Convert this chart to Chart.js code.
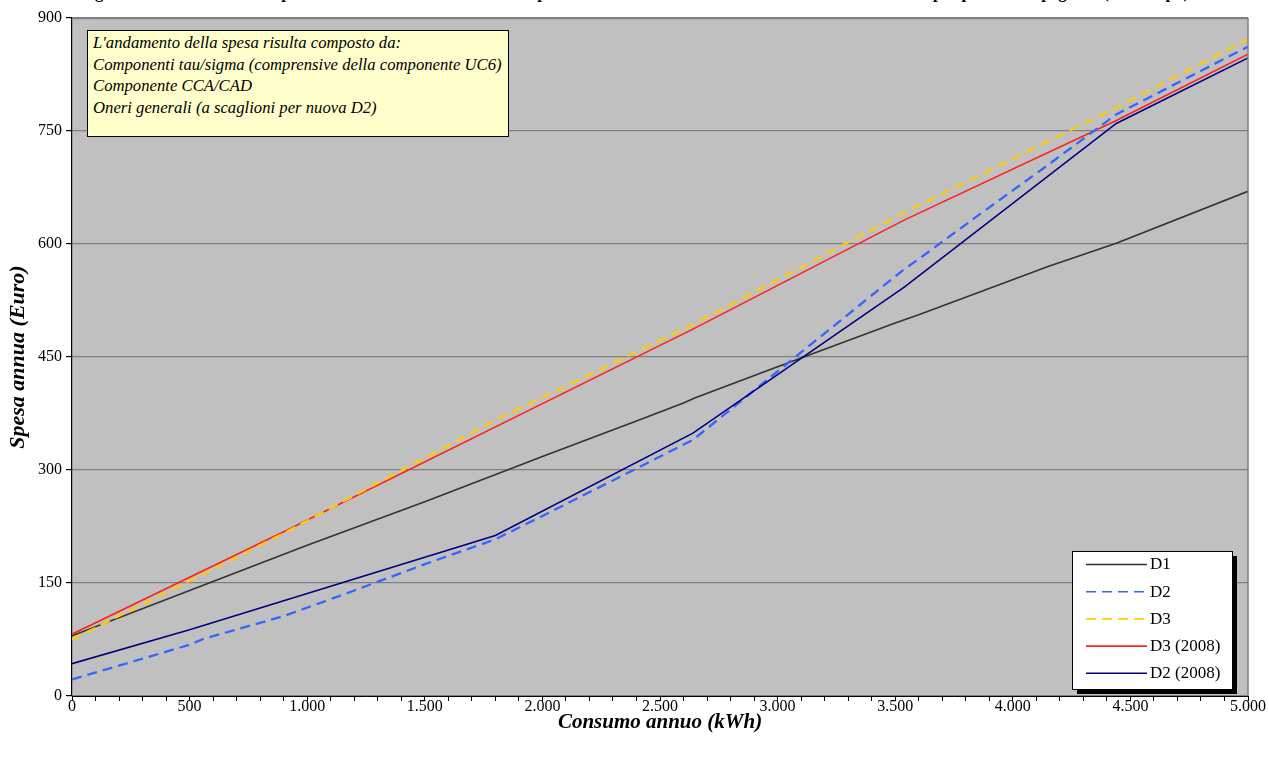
<!DOCTYPE html>
<html>
<head>
<meta charset="utf-8">
<script src="https://cdn.jsdelivr.net/npm/chart.js@4.4.1/dist/chart.umd.min.js"></script>
<style>
html,body{margin:0;padding:0;background:#fff;overflow:hidden}
#wrap{position:relative;width:1269px;height:760px;overflow:hidden}
#title{position:absolute;left:0;top:-17px;width:1269px;text-align:center;font:bold 17px "Liberation Serif";line-height:20px;white-space:nowrap;color:#000}
#note{position:absolute;left:87px;top:30px;width:410px;height:97px;padding:1px 5px 7px 5px;background:#FFFFCC;border:1px solid #000;font:italic 16.7px "Liberation Serif";line-height:21.7px;color:#000;white-space:nowrap}
canvas{position:absolute;left:0;top:0}
</style>
</head>
<body>
<div id="wrap">
<canvas id="c" width="1269" height="760"></canvas>
<div id="title">Figura 2: Confronto tra la spesa annua di un cliente domestico per le diverse tariffe, in funzione del consumo annuo e per potenza impegnata (3 kW, tipo)</div>
<div id="note">L'andamento della spesa risulta composto da:<br>Componenti tau/sigma (comprensive della componente UC6)<br>Componente CCA/CAD<br>Oneri generali (a scaglioni per nuova D2)</div>
</div>
<script>
// ---- data (kWh / Euro) ----
const seriesNames = ['D1', 'D2', 'D3', 'D3 (2008)', 'D2 (2008)'];

const d1Kwh = [0, 500, 1000, 1500, 2000, 2400, 2600, 2650, 3000, 3500, 3600, 4150, 4440, 5000];
const d1Eur = [80, 140, 200, 258, 318, 365, 389, 396, 437, 495, 506, 570, 601, 670];

const d2Kwh = [0, 500, 560, 900, 1200, 1500, 1800, 2000, 2400, 2640, 2700, 3000, 3540, 3600, 3840, 4150, 4440, 5000];
const d2Eur = [22, 68, 76, 106, 140, 175, 208, 239, 302, 340, 355, 431, 567, 580, 635, 705, 772, 862];

const d3Kwh = [0, 500, 900, 1800, 2640, 3540, 4440, 5000];
const d3Eur = [75, 153, 216, 366, 493, 642, 781, 872];

const d3oldKwh = [0, 900, 2640, 3540, 4440, 5000];
const d3oldEur = [82, 218, 487, 632, 764, 852];

const d2oldKwh = [0, 500, 1800, 2640, 3540, 4440, 5000];
const d2oldEur = [43, 88, 213, 349, 543, 760, 847];

const xTickLabels = ['0', '500', '1.000', '1.500', '2.000', '2.500', '3.000', '3.500', '4.000', '4.500', '5.000'];
const yTickLabels = ['0', '150', '300', '450', '600', '750', '900'];

// ---- styles ----
const styles = [
  {color: '#333333', width: 1.6, dash: []},
  {color: '#3366FF', width: 2.3, dash: [10, 6]},
  {color: '#FFCC00', width: 2.2, dash: [10, 6]},
  {color: '#FF2020', width: 1.6, dash: []},
  {color: '#000080', width: 1.6, dash: []}
];
const kwhs = [d1Kwh, d2Kwh, d3Kwh, d3oldKwh, d2oldKwh];
const eurs = [d1Eur, d2Eur, d3Eur, d3oldEur, d2oldEur];

const datasets = seriesNames.map((name, i) => ({
  label: name,
  data: kwhs[i].map((x, j) => ({x: x, y: eurs[i][j]})),
  borderColor: styles[i].color,
  borderWidth: styles[i].width,
  borderDash: styles[i].dash,
  pointRadius: 0,
  tension: 0,
  fill: false
}));
const order = [4, 1, 2, 3, 0];
datasets.forEach((d, i) => { d.order = order[i]; });

const serif = 'Liberation Serif';

const bgPlugin = {
  id: 'bg',
  beforeDraw(chart) {
    const {ctx, chartArea: a} = chart;
    ctx.save();
    ctx.fillStyle = '#C0C0C0';
    ctx.fillRect(a.left, a.top, a.right - a.left, a.bottom - a.top);
    ctx.restore();
  },
  afterDraw(chart) {
    const {ctx, chartArea: a} = chart;
    ctx.save();
    ctx.strokeStyle = '#808080';
    ctx.lineWidth = 1.5;
    ctx.beginPath();
    ctx.moveTo(a.left, a.top + 0.5);
    ctx.lineTo(a.right, a.top + 0.5);
    ctx.lineTo(a.right, a.bottom);
    ctx.stroke();
    // legend
    const lx = 1072, ly = 551, lw = 160, lh = 138;
    ctx.fillStyle = '#000';
    ctx.fillRect(lx + 5, ly + 5, lw, lh);
    ctx.fillStyle = '#fff';
    ctx.fillRect(lx, ly, lw, lh);
    ctx.strokeStyle = '#000';
    ctx.lineWidth = 1;
    ctx.strokeRect(lx + 0.5, ly + 0.5, lw, lh);
    ctx.font = '17px "' + serif + '"';
    ctx.textBaseline = 'middle';
    ctx.textAlign = 'left';
    chart.data.datasets.forEach((d, i) => {
      const y = ly + 13 + i * 27.2;
      ctx.strokeStyle = d.borderColor;
      ctx.lineWidth = 1.6;
      ctx.setLineDash(d.borderDash.length ? [10, 6] : []);
      ctx.beginPath();
      ctx.moveTo(1086, y + 0.5);
      ctx.lineTo(1147, y + 0.5);
      ctx.stroke();
      ctx.setLineDash([]);
      ctx.fillStyle = '#000';
      ctx.fillText(d.label, 1150, y + 1);
    });
    ctx.restore();
  }
};

new Chart(document.getElementById('c'), {
  type: 'line',
  data: {datasets: datasets},
  options: {
    responsive: false,
    animation: false,
    layout: {padding: {left: 0, right: 21, top: 18, bottom: 0}},
    plugins: {legend: {display: false}, tooltip: {enabled: false}, title: {display: false}},
    scales: {
      x: {
        type: 'linear', min: 0, max: 5000,
        afterFit(s) { s.height = 64; },
        ticks: {
          stepSize: 100, autoSkip: false, maxRotation: 0, minRotation: 0, maxTicksLimit: 100,
          callback: v => (v % 500 === 0 ? xTickLabels[v / 500] : ''),
          font: {family: serif, size: 16}, color: '#000', padding: -4
        },
        grid: {drawOnChartArea: false, drawTicks: true, tickLength: 5, tickColor: '#000', color: '#000'},
        border: {color: '#000', width: 1},
        title: {display: true, text: 'Consumo annuo (kWh)', color: '#000',
          font: {family: serif, size: 21, style: 'italic', weight: 'bold'}, padding: {top: 0, bottom: 25}}
      },
      y: {
        min: 0, max: 900,
        afterFit(s) { s.width = 72; },
        ticks: {
          stepSize: 150, autoSkip: false,
          callback: v => yTickLabels[v / 150],
          font: {family: serif, size: 16}, color: '#000', padding: 4
        },
        grid: {color: '#808080', lineWidth: 1.2, tickColor: '#000', tickLength: 6},
        border: {color: '#000', width: 1.2},
        title: {display: true, text: 'Spesa annua (Euro)', color: '#000',
          font: {family: serif, size: 22, style: 'italic', weight: 'bold'}, padding: {top: 5, bottom: 0}}
      }
    }
  },
  plugins: [bgPlugin]
});
</script>
</body>
</html>
